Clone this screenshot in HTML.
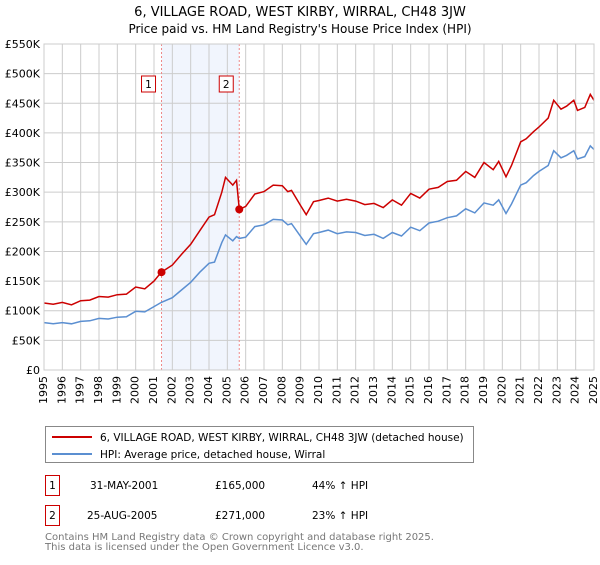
<!DOCTYPE html>
<html><head><meta charset="utf-8"><style>
body{margin:0;background:#fff;font-family:"Liberation Sans","DejaVu Sans",sans-serif;}
svg text{font-family:"DejaVu Sans","Liberation Sans",sans-serif;}
</style></head><body>
<svg id="c" width="600" height="560" xmlns="http://www.w3.org/2000/svg">
<text x="300" y="16" text-anchor="middle" font-size="13">6, VILLAGE ROAD, WEST KIRBY, WIRRAL, CH48 3JW</text>
<text x="300" y="33" text-anchor="middle" font-size="12">Price paid vs. HM Land Registry's House Price Index (HPI)</text>
<g id="plot"></g>
<g>
<rect x="45.5" y="426.5" width="428" height="36" fill="#fff" stroke="#888"/>
<line x1="52" y1="437" x2="92" y2="437" stroke="#cc0000" stroke-width="2"/>
<text x="100" y="441" font-size="10.5">6, VILLAGE ROAD, WEST KIRBY, WIRRAL, CH48 3JW (detached house)</text>
<line x1="52" y1="454" x2="92" y2="454" stroke="#5b8fd1" stroke-width="2"/>
<text x="100" y="458" font-size="10.5">HPI: Average price, detached house, Wirral</text>
</g>
<g font-size="10.5">
<rect x="45.5" y="475.5" width="14" height="20" fill="#fff" stroke="#cc0000"/><text x="52.5" y="489" text-anchor="middle">1</text>
<text x="90" y="489">31-MAY-2001</text><text x="215" y="489">£165,000</text><text x="312" y="489">44% ↑ HPI</text>
<rect x="45.5" y="505.5" width="14" height="20" fill="#fff" stroke="#cc0000"/><text x="52.5" y="519" text-anchor="middle">2</text>
<text x="87" y="519">25-AUG-2005</text><text x="215" y="519">£271,000</text><text x="312" y="519">23% ↑ HPI</text>
</g>
<text x="45" y="540" font-size="10" fill="#777">Contains HM Land Registry data © Crown copyright and database right 2025.</text>
<text x="45" y="550" font-size="10" fill="#777">This data is licensed under the Open Government Licence v3.0.</text>
</svg>
<script>
const yearTicks=[1995,1996,1997,1998,1999,2000,2001,2002,2003,2004,2005,2006,2007,2008,2009,2010,2011,2012,2013,2014,2015,2016,2017,2018,2019,2020,2021,2022,2023,2024,2025];
const valueTicks=[0,50,100,150,200,250,300,350,400,450,500,550];
const dates=[1995,1995.5,1996,1996.5,1997,1997.5,1998,1998.5,1999,1999.5,2000,2000.5,2001,2001.4,2002,2002.5,2003,2003.5,2004,2004.3,2004.7,2004.9,2005.3,2005.5,2005.65,2006,2006.5,2007,2007.5,2008,2008.3,2008.5,2009,2009.3,2009.7,2010,2010.5,2011,2011.5,2012,2012.5,2013,2013.5,2014,2014.5,2015,2015.5,2016,2016.5,2017,2017.5,2018,2018.5,2019,2019.5,2019.8,2020.2,2020.5,2021,2021.3,2021.7,2022,2022.5,2022.8,2023.2,2023.5,2023.9,2024.1,2024.5,2024.8,2025];
const priceSeries=[113,111,114,110,117,118,124,123,127,128,140,137,150,165,177,195,212,235,258,262,300,325,312,320,271,276,297,301,312,311,301,303,277,262,284,286,290,285,288,285,279,281,274,287,278,298,290,305,308,318,320,335,325,350,338,352,326,345,385,390,402,410,425,455,440,445,455,438,443,465,455];
const hpiSeries=[80,78,80,78,82,83,87,86,89,90,99,98,107,114,122,135,148,165,180,182,215,228,218,225,222,224,242,245,254,253,245,247,225,212,230,232,236,230,233,232,227,229,222,232,226,241,235,248,251,257,260,272,265,282,278,287,264,280,312,316,328,335,345,370,358,362,370,356,360,378,372];
const saleDates=[2001.41,2005.65];
const salePrices=[165,271];
const saleLabels=["1","2"];
const X0=44,X1=594,Y0=370,Y1=44;
const x=d=>X0+(d-1995)/30*(X1-X0);
const y=v=>Y0-v/550*(Y0-Y1);
const NS="http://www.w3.org/2000/svg";
const g=document.getElementById('plot');
function mk(t,a,p){const e=document.createElementNS(NS,t);for(const k in a)e.setAttribute(k,a[k]);(p||g).appendChild(e);return e;}
const band=mk('rect',{x:x(saleDates[0]),y:Y1,width:x(saleDates[1])-x(saleDates[0]),height:Y0-Y1,fill:'#eef3fc',opacity:0.8});


yearTicks.forEach(t=>{
 const l=mk('line',{x1:x(t),x2:x(t),y1:Y1,y2:Y0,stroke:'#ccc','stroke-width':1});
 
 
 const tx=mk('text',{x:0,y:0,'font-size':11,'text-anchor':'end','dominant-baseline':'middle',transform:`translate(${x(t)},${Y0+6}) rotate(-90)`});
 tx.textContent=t;
 
 
});
valueTicks.forEach(v=>{
 const l=mk('line',{x1:X0,x2:X1,y1:y(v),y2:y(v),stroke:'#ccc','stroke-width':1});
 
 
 const tx=mk('text',{x:X0-4,y:y(v)+4,'font-size':11,'text-anchor':'end'});
 tx.textContent=v===0?'£0':'£'+v+'K';
 
 
});
saleDates.forEach((d,i)=>{
 const l=mk('line',{x1:x(d),x2:x(d),y1:Y1,y2:Y0,stroke:'#e88','stroke-width':1,'stroke-dasharray':'2,2'});
 
 
 const r=mk('rect',{x:x(d)-20,y:76,width:14,height:16,fill:'#fff',stroke:'#cc0000'});
 
 
 const t=mk('text',{x:x(d)-13,y:88,'font-size':10.5,'text-anchor':'middle'});
 t.textContent=saleLabels[i];
 
 
});
const pth=arr=>arr.map((v,i)=>(i?'L':'M')+x(dates[i]).toFixed(1)+','+y(v).toFixed(1)).join('');
const hl=mk('path',{d:pth(hpiSeries),fill:'none',stroke:'#5b8fd1','stroke-width':1.5});


const pl=mk('path',{d:pth(priceSeries),fill:'none',stroke:'#cc0000','stroke-width':1.5});


saleDates.forEach((d,i)=>{
 const c=mk('circle',{cx:x(d),cy:y(salePrices[i]),r:4,fill:'#cc0000'});
 
 
});
const ax=mk('rect',{x:X0,y:Y1,width:X1-X0,height:Y0-Y1,fill:'none',stroke:'#ccc'});


</script>
</body></html>
